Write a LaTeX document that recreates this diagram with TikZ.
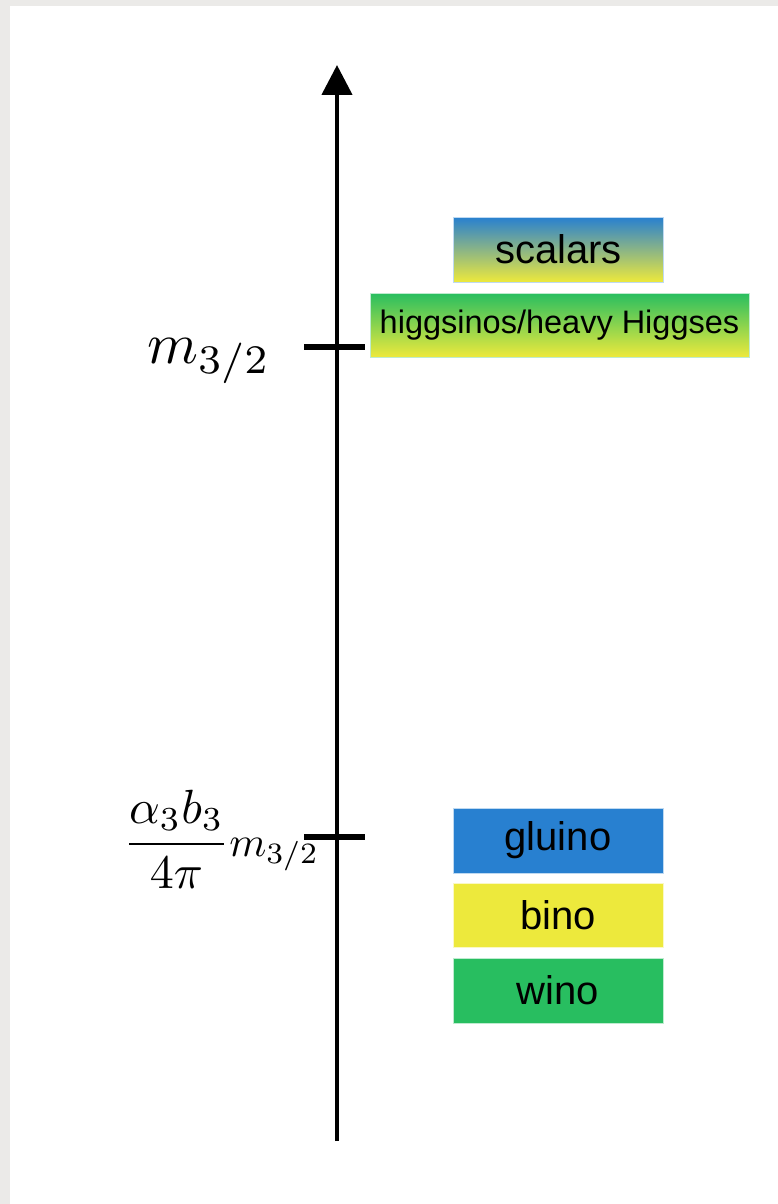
\documentclass[tikz,border=0pt]{standalone}
\usepackage{fontspec}
\newfontfamily\boxfont{Liberation Sans}
\usetikzlibrary{arrows.meta}
\definecolor{framegray}{RGB}{235,234,232}
\definecolor{gblue}{RGB}{40,128,208}
\definecolor{gyellow}{RGB}{237,233,60}
\definecolor{ggreen}{RGB}{40,190,96}
\tikzset{
  lvl/.style={inner sep=0pt, minimum width=210pt, minimum height=65pt, text=black,
    font=\boxfont\fontsize{40}{48}\selectfont},
  axisline/.style={line width=4.5pt, -{Triangle[length=30pt,width=30pt]}},
  tickline/.style={line width=5.5pt},
  mlabel/.style={inner sep=0pt}
}
\begin{document}
\begin{tikzpicture}[x=1pt,y=-1pt]
\useasboundingbox (0,0) rectangle (778,1204);
\fill[framegray] (0,0) rectangle (778,1204);
\fill[white] (10,6) rectangle (778,1204);
% axis
\coordinate (bot) at (337,1141);
\coordinate (top) at (337,65);
\draw[axisline] (bot) -- (top);
% ticks
\coordinate (t1w) at (304,347);
\coordinate (t1e) at (365,347);
\coordinate (t2w) at (304,837);
\coordinate (t2e) at (365,837);
\draw[tickline] (t1w) -- (t1e);
\draw[tickline] (t2w) -- (t2e);
% labels
\node[mlabel, scale=5.8, anchor=base west] (lab1) at (146,363) {$m_{3/2}$};
\node[mlabel, scale=4.8, anchor=base east] (lab2) at (320,856) {$\displaystyle\frac{\alpha_3 b_3}{4\pi}\scalebox{0.88}{$m_{3/2}$}$};
% boxes
\node[lvl, top color=gblue, bottom color=gyellow, draw=gblue!30, line width=1pt] (scalars) at (558.5,249.5) {scalars};
\node[lvl, minimum width=379pt, minimum height=64pt, top color=ggreen, bottom color=gyellow, draw=ggreen!30, line width=1pt,
  font=\boxfont\fontsize{32.5}{38}\selectfont] (higgs) at (559.5,325) {higgsinos/heavy Higgses};
\node[lvl, fill=gblue, draw=gblue!30, line width=1pt] (gluino) at (558,840.5) {gluino};
\node[lvl, fill=gyellow, minimum height=64pt, draw=gyellow!30, line width=1pt] (bino) at (558,915) {bino};
\node[lvl, fill=ggreen, draw=ggreen!30, line width=1pt] (wino) at (558,990.5) {wino};
\end{tikzpicture}
\end{document}
